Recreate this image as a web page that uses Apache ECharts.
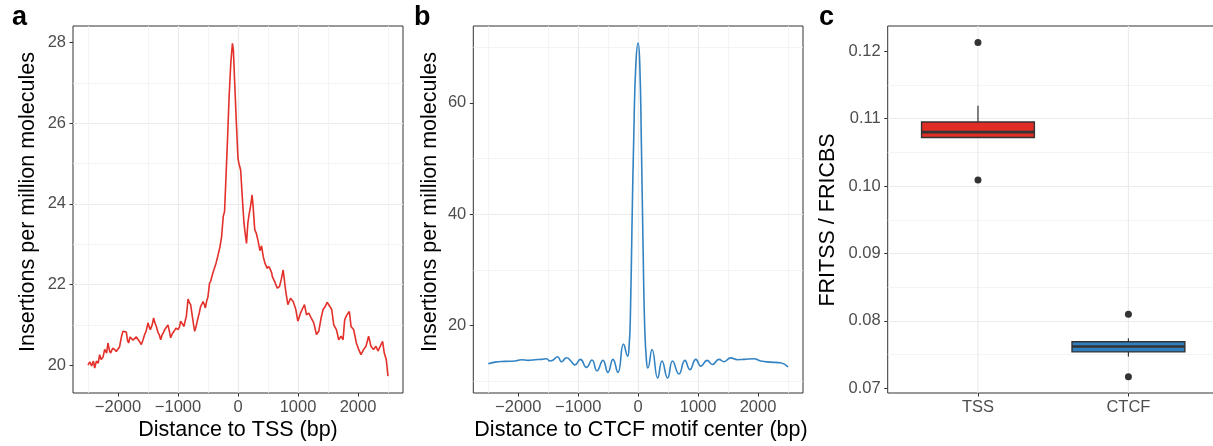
<!DOCTYPE html>
<html>
<head>
<meta charset="utf-8">
<script src="https://cdn.jsdelivr.net/npm/echarts@6/dist/echarts.min.js"></script>
<style>
html,body{margin:0;padding:0;background:#fff;}
#chart{width:1213px;height:446px;}
</style>
</head>
<body>
<div id="chart"></div>
<script>
// ---- Panel a: insertions around TSS ----
const tssPos = [-2500,-2470,-2440,-2410,-2389,-2360,-2330,-2306,-2280,-2250,-2222,-2190,-2167,-2140,-2122,-2090,-2056,-2030,-2000,-1975,-1956,-1935,-1917,-1890,-1861,-1840,-1822,-1800,-1778,-1750,-1722,-1695,-1667,-1640,-1611,-1585,-1556,-1530,-1500,-1480,-1461,-1430,-1406,-1385,-1361,-1330,-1310,-1289,-1265,-1240,-1222,-1195,-1167,-1145,-1122,-1095,-1067,-1035,-1000,-975,-956,-925,-900,-880,-861,-845,-833,-810,-789,-760,-735,-722,-700,-667,-645,-622,-600,-583,-560,-544,-520,-500,-475,-456,-420,-389,-366,-339,-300,-273,-246,-224,-202,-175,-148,-120,-93,-77,-55,-27,0,16,44,72,100,126,142,164,183,208,235,252,279,305,332,366,393,421,449,488,509,532,563,571,609,654,692,720,753,792,831,875,920,964,997,1042,1069,1108,1141,1180,1219,1263,1307,1346,1385,1418,1457,1485,1529,1562,1596,1640,1679,1717,1751,1778,1817,1856,1884,1928,1973,2011,2050,2094,2133,2177,2216,2260,2299,2333,2371,2410,2438,2471,2500];
const tssVal = [20.0,20.08,19.98,20.1,19.93,20.1,20.05,20.26,20.14,20.2,20.39,20.3,20.55,20.35,20.3,20.42,20.39,20.34,20.35,20.45,20.6,20.75,20.84,20.8,20.82,20.6,20.55,20.7,20.68,20.62,20.6,20.7,20.68,20.58,20.51,20.62,20.76,20.85,21.05,20.95,20.88,21.0,21.17,21.05,20.96,20.8,20.75,20.63,20.75,20.82,20.88,20.92,21.0,20.85,20.68,20.78,20.84,20.92,20.88,20.95,21.09,21.02,20.96,21.1,21.21,21.45,21.64,21.55,21.5,21.2,20.95,20.84,20.95,21.17,21.3,21.46,21.52,21.58,21.5,21.42,21.6,21.7,22.03,22.08,22.28,22.3,22.53,22.69,22.94,23.19,23.69,23.81,24.6,25.59,26.66,27.49,27.98,27.82,26.99,26.0,25.12,25.0,24.84,24.15,23.52,23.19,23.02,23.52,23.72,23.93,24.22,23.93,23.36,23.27,23.1,22.84,22.96,22.69,22.53,22.4,22.45,22.4,22.28,22.2,22.08,21.91,21.95,22.12,22.36,21.87,21.5,21.66,21.58,21.38,21.09,21.29,21.38,21.5,21.25,21.29,21.17,21.05,20.76,20.84,21.17,21.38,21.46,21.56,21.46,21.38,21.0,20.88,20.63,20.72,20.63,21.13,21.25,21.33,20.96,20.88,20.55,20.39,20.26,20.39,20.47,20.72,20.47,20.39,20.47,20.35,20.47,20.59,20.3,20.14,19.73];

// ---- Panel b: insertions around CTCF motif center ----
const ctcfPos = [-2500,-2389,-2222,-2056,-1944,-1833,-1722,-1611,-1528,-1472,-1417,-1344,-1278,-1194,-1122,-1056,-963,-863,-770,-687,-587,-504,-421,-338,-244,-176,-150,-130,-104,-71,-38,0,27,55,82,110,140,163,232,326,398,491,574,680,780,863,963,1046,1150,1238,1349,1432,1543,1657,1767,1933,2044,2211,2377,2500];
const ctcfVal = [13.15,13.45,13.58,13.64,13.88,13.76,13.88,13.94,14.06,13.64,13.82,14.42,13.52,14.24,13.64,12.95,13.94,12.5,13.82,11.9,13.76,11.6,13.94,11.6,16.67,14.5,16.5,21.5,37.1,55.0,67.0,70.75,67.0,52.0,34.1,19.5,13.5,12.4,15.7,10.6,13.64,10.6,13.64,11.3,13.76,12.1,13.94,12.73,13.76,13.03,13.94,13.52,14.2,13.88,13.94,14.06,13.64,13.45,13.33,12.6];

// ---- Panel c: FRITSS / FRICBS boxplots ----
const boxCats = ['TSS', 'CTCF'];
const boxLow  = [0.1072, 0.0747];
const boxQ1   = [0.1072, 0.0754];
const boxMed  = [0.1080, 0.0762];
const boxQ3   = [0.1095, 0.0769];
const boxHigh = [0.1119, 0.0774];
const boxColors = ['#E02D26', '#2F80C0'];
const outCat = [1, 1, 2, 2];
const outVal = [0.1213, 0.1009, 0.0810, 0.0717];

// ---- tick labels ----
const xTicks = [-2000, -1000, 0, 1000, 2000];
const aYTicks = [20, 22, 24, 26, 28];
const bYTicks = [20, 40, 60];
const cYTicks = [0.07, 0.08, 0.09, 0.10, 0.11, 0.12];
const cXTicks = [1, 2];

const FONT = '"Liberation Sans", Arial, Helvetica, sans-serif';
const TICKCOL = '#4D4D4D';

function axisBase(opts) {
  return Object.assign({
    type: 'value',
    axisLine: { show: false, onZero: false },
    axisTick: { show: true, length: 3.5, lineStyle: { color: '#333', width: 1 }, customValues: opts.ticks },
    axisLabel: {
      color: TICKCOL, fontSize: 16.5, fontFamily: FONT, margin: opts.margin,
      customValues: opts.ticks, formatter: opts.fmt,
      showMinLabel: true, showMaxLabel: true
    },
    splitLine: { show: opts.split !== false, showMinLine: false, showMaxLine: false, lineStyle: { color: '#EBEBEB', width: 1.2 } },
    minorTick: { show: false, splitNumber: 2 },
    minorSplitLine: { show: opts.minor !== false, lineStyle: { color: '#F1F1F1', width: 0.8 } }
  }, opts.extra);
}
const bpFmt = v => String(v).replace('-', '\u2212');

const chart = echarts.init(document.getElementById('chart'), null, { renderer: 'canvas' });

const gridBase = { show: true, borderColor: '#333', borderWidth: 1, backgroundColor: 'transparent', containLabel: false, outerBoundsMode: 'none' };

const option = {
  animation: false,
  backgroundColor: '#fff',
  grid: [
    Object.assign({ left: 73, top: 26, width: 330, height: 367 }, gridBase),
    Object.assign({ left: 473.3, top: 26, width: 329.7, height: 367 }, gridBase),
    Object.assign({ left: 887.7, top: 26, width: 331, height: 367 }, gridBase)
  ],
  xAxis: [
    axisBase({ ticks: xTicks, margin: 6, fmt: bpFmt, extra: { gridIndex: 0, min: -2750, max: 2750, splitNumber: 5 } }),
    axisBase({ ticks: xTicks, margin: 6, fmt: bpFmt, extra: { gridIndex: 1, min: -2750, max: 2750, splitNumber: 5 } }),
    axisBase({ ticks: cXTicks, margin: 6, split: false, minor: false, fmt: v => boxCats[Math.round(v) - 1] || '', extra: { gridIndex: 2, min: 0.4, max: 2.6 } })
  ],
  yAxis: [
    axisBase({ ticks: aYTicks, margin: 7, fmt: v => String(v), extra: { gridIndex: 0, min: 19.31, max: 28.41, splitNumber: 5 } }),
    axisBase({ ticks: bYTicks, margin: 7, fmt: v => String(v), extra: { gridIndex: 1, min: 7.9, max: 73.8, splitNumber: 3 } }),
    axisBase({ ticks: cYTicks, margin: 7, fmt: v => v.toFixed(2), extra: { gridIndex: 2, min: 0.0693, max: 0.12375, splitNumber: 5 } })
  ],
  series: [
    {
      type: 'line', xAxisIndex: 0, yAxisIndex: 0, showSymbol: false, symbol: 'none',
      data: tssPos.map((x, i) => [x, tssVal[i]]),
      lineStyle: { color: '#E3302A', width: 1.6 }, itemStyle: { color: '#E3302A' }
    },
    {
      type: 'line', xAxisIndex: 1, yAxisIndex: 1, showSymbol: false, symbol: 'none', smooth: 0.5,
      data: ctcfPos.map((x, i) => [x, ctcfVal[i]]),
      lineStyle: { color: '#3283C3', width: 1.6 }, itemStyle: { color: '#3283C3' }
    },
    {
      type: 'custom', xAxisIndex: 2, yAxisIndex: 2,
      data: boxCats.map((c, i) => [i + 1, boxLow[i], boxQ1[i], boxMed[i], boxQ3[i], boxHigh[i]]),
      renderItem: function (params, api) {
        const x = api.value(0);
        const i = params.dataIndex;
        const cs = params.coordSys;
        const hw = 0.375;
        const cLow = api.coord([x, api.value(1)]);
        const cQ1 = api.coord([x, api.value(2)]);
        const cMed = api.coord([x, api.value(3)]);
        const cQ3 = api.coord([x, api.value(4)]);
        const cHigh = api.coord([x, api.value(5)]);
        const l = api.coord([x - hw, api.value(3)])[0];
        const r = api.coord([x + hw, api.value(3)])[0];
        const px = cMed[0];
        return {
          type: 'group',
          children: [
            { type: 'line', shape: { x1: px, y1: cs.y, x2: px, y2: cs.y + cs.height }, style: { stroke: '#EBEBEB', lineWidth: 1.2 } },
            { type: 'line', shape: { x1: px, y1: cQ3[1], x2: px, y2: cHigh[1] }, style: { stroke: '#333', lineWidth: 1.2 } },
            { type: 'line', shape: { x1: px, y1: cQ1[1], x2: px, y2: cLow[1] }, style: { stroke: '#333', lineWidth: 1.2 } },
            { type: 'rect', shape: { x: l, y: cQ3[1], width: r - l, height: cQ1[1] - cQ3[1] }, style: { fill: boxColors[i], stroke: '#333', lineWidth: 1.4 } },
            { type: 'line', shape: { x1: l, y1: cMed[1], x2: r, y2: cMed[1] }, style: { stroke: '#333', lineWidth: 2.6 } }
          ]
        };
      }
    },
    {
      type: 'scatter', xAxisIndex: 2, yAxisIndex: 2, symbol: 'circle', symbolSize: 7,
      data: outCat.map((c, i) => [c, outVal[i]]),
      itemStyle: { color: '#333', opacity: 1 }
    }
  ],
  graphic: [
    { type: 'text', x: 12, y: 31, style: { text: 'a', font: 'bold 27px ' + FONT, fill: '#000', textAlign: 'left', textVerticalAlign: 'bottom' } },
    { type: 'text', x: 414, y: 31, style: { text: 'b', font: 'bold 27px ' + FONT, fill: '#000', textAlign: 'left', textVerticalAlign: 'bottom' } },
    { type: 'text', x: 819, y: 31, style: { text: 'c', font: 'bold 27px ' + FONT, fill: '#000', textAlign: 'left', textVerticalAlign: 'bottom' } },
    { type: 'text', x: 28, y: 202, rotation: Math.PI / 2, style: { text: 'Insertions per million molecules', font: '21.5px ' + FONT, fill: '#000', textAlign: 'center', textVerticalAlign: 'middle' } },
    { type: 'text', x: 430, y: 202, rotation: Math.PI / 2, style: { text: 'Insertions per million molecules', font: '21.5px ' + FONT, fill: '#000', textAlign: 'center', textVerticalAlign: 'middle' } },
    { type: 'text', x: 828, y: 220, rotation: Math.PI / 2, style: { text: 'FRITSS / FRICBS', font: '21.5px ' + FONT, fill: '#000', textAlign: 'center', textVerticalAlign: 'middle' } },
    { type: 'text', x: 238, y: 430, style: { text: 'Distance to TSS (bp)', font: '21.5px ' + FONT, fill: '#000', textAlign: 'center', textVerticalAlign: 'middle' } },
    { type: 'text', x: 641, y: 430, style: { text: 'Distance to CTCF motif center (bp)', font: '21.5px ' + FONT, fill: '#000', textAlign: 'center', textVerticalAlign: 'middle' } }
  ]
};
chart.setOption(option);
</script>
</body>
</html>
